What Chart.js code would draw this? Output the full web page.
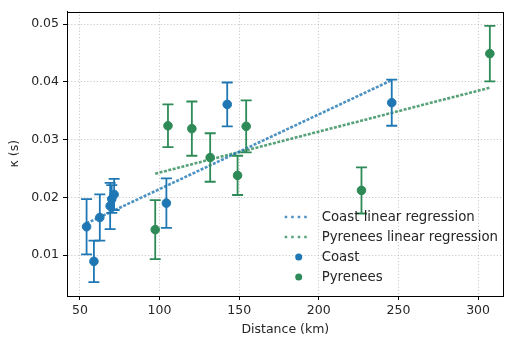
<!DOCTYPE html>
<html><head><meta charset="utf-8">
<script src="https://cdn.jsdelivr.net/npm/chart.js@4"></script>
<style>html,body{margin:0;padding:0;background:#fff}#wrap{width:509px;height:345px;position:relative}</style>
</head><body><div id="wrap"><canvas id="c"></canvas></div>
<script>
const coastDistance = [54.2, 58.8, 62.5, 69, 70, 71.5, 104.3, 142.5, 245.8];
const coastKappa = [0.0149, 0.0089, 0.0165, 0.0185, 0.0197, 0.0205, 0.0190, 0.0361, 0.0364];
const coastError = [0.0048, 0.0036, 0.0040, 0.0040, 0.0024, 0.0027, 0.0043, 0.0038, 0.0040];
const pyreneesDistance = [97.3, 105.3, 120.3, 131.8, 149.0, 154.4, 226.8, 307.4];
const pyreneesKappa = [0.0144, 0.0324, 0.0319, 0.0269, 0.0238, 0.0323, 0.0212, 0.0449];
const pyreneesError = [0.0051, 0.0037, 0.0047, 0.0042, 0.0034, 0.0045, 0.0040, 0.0048];
const coastFitX = [54.2, 245.8];
const coastFitY = [0.0155, 0.0403];
const pyreneesFitX = [97.3, 307.4];
const pyreneesFitY = [0.0241, 0.0390];
const xTicks = [50, 100, 150, 200, 250, 300];
const yTicks = [0.01, 0.02, 0.03, 0.04, 0.05];
const legendLabels = ['Coast linear regression', 'Pyrenees linear regression', 'Coast', 'Pyrenees'];

const BLUE = '#1f77b4';
const GREEN = '#2e8b57';
const BLUE_LINE = 'rgba(31,119,180,0.8)';
const GREEN_LINE = 'rgba(46,139,87,0.8)';
const FONT = 'DejaVu Sans';
const FS = 12.5;
const LFS = 13.3;

const pts = (xs, ys) => xs.map((v, i) => ({x: v, y: ys[i]}));

const errorBars = {
  id: 'errorBars',
  afterDatasetsDraw(chart) {
    const {ctx, scales: {x, y}} = chart;
    const sets = [[coastDistance, coastKappa, coastError, BLUE], [pyreneesDistance, pyreneesKappa, pyreneesError, GREEN]];
    ctx.save();
    ctx.lineWidth = 1.8;
    sets.forEach(([d, k, e, col]) => {
      ctx.strokeStyle = col;
      for (let i = 0; i < d.length; i++) {
        const px = x.getPixelForValue(d[i]);
        const t = y.getPixelForValue(k[i] + e[i]);
        const b = y.getPixelForValue(k[i] - e[i]);
        ctx.beginPath();
        ctx.moveTo(px, t); ctx.lineTo(px, b);
        ctx.moveTo(px - 5.5, t); ctx.lineTo(px + 5.5, t);
        ctx.moveTo(px - 5.5, b); ctx.lineTo(px + 5.5, b);
        ctx.stroke();
      }
    });
    ctx.restore();
  }
};

const frameAndLegend = {
  id: 'frameAndLegend',
  afterDraw(chart) {
    const {ctx, chartArea: a} = chart;
    ctx.save();
    ctx.strokeStyle = '#000';
    ctx.lineWidth = 1;
    ctx.strokeRect(Math.round(a.left) + 0.5, Math.round(a.top) + 0.5, Math.round(a.right - a.left) - 1, Math.round(a.bottom - a.top) - 1);
    // legend
    const tx = a.right - 182;
    const rows = [a.bottom - 79, a.bottom - 59, a.bottom - 39, a.bottom - 19];
    ctx.font = LFS + 'px "' + FONT + '"';
    ctx.fillStyle = '#262626';
    ctx.textBaseline = 'middle';
    ctx.textAlign = 'left';
    const cols = [BLUE_LINE, GREEN_LINE, BLUE, GREEN];
    rows.forEach((ry, i) => {
      if (i < 2) {
        ctx.strokeStyle = cols[i];
        ctx.lineWidth = 2.5;
        ctx.setLineDash([2.5, 4]);
        ctx.beginPath();
        ctx.moveTo(tx - 37, ry); ctx.lineTo(tx - 12, ry);
        ctx.stroke();
        ctx.setLineDash([]);
      } else {
        ctx.fillStyle = cols[i];
        ctx.beginPath();
        ctx.arc(tx - 23, ry, 3.5, 0, Math.PI * 2);
        ctx.fill();
        ctx.fillStyle = '#262626';
      }
      ctx.fillText(legendLabels[i], tx, ry + 1);
    });
    ctx.restore();
  }
};

new Chart(document.getElementById('c'), {
  type: 'scatter',
  data: {
    datasets: [
      {label: legendLabels[2], data: pts(coastDistance, coastKappa), backgroundColor: BLUE, borderColor: BLUE, pointRadius: 4.3, pointHoverRadius: 4.3},
      {label: legendLabels[3], data: pts(pyreneesDistance, pyreneesKappa), backgroundColor: GREEN, borderColor: GREEN, pointRadius: 4.3, pointHoverRadius: 4.3},
      {type: 'line', label: legendLabels[0], data: pts(coastFitX, coastFitY), borderColor: BLUE_LINE, borderWidth: 2.6, borderDash: [3, 1.5], pointRadius: 0, fill: false},
      {type: 'line', label: legendLabels[1], data: pts(pyreneesFitX, pyreneesFitY), borderColor: GREEN_LINE, borderWidth: 2.6, borderDash: [3, 1.5], pointRadius: 0, fill: false}
    ]
  },
  options: {
    responsive: true,
    maintainAspectRatio: false,
    animation: false,
    devicePixelRatio: 1,
    layout: {padding: {top: 5, right: 4, left: 0, bottom: 0}},
    plugins: {legend: {display: false}, tooltip: {enabled: false}},
    scales: {
      x: {
        type: 'linear', min: 41.9, max: 316.1,
        afterFit(s) { s.height = 49; },
        afterBuildTicks(s) { s.ticks = xTicks.map(v => ({value: v})); },
        ticks: {color: '#262626', font: {family: FONT, size: FS}, padding: 3, maxRotation: 0, autoSkip: false, callback: v => String(v)},
        grid: {color: '#bdbdbd', lineWidth: 0.8, tickColor: '#000', tickLength: 4, tickWidth: 1},
        border: {color: '#000', width: 1, dash: [1.2, 2]},
        title: {display: true, text: 'Distance (km)', color: '#262626', font: {family: FONT, size: FS}, padding: {top: 0, bottom: 7.5}}
      },
      y: {
        type: 'linear', min: 0.0029, max: 0.0522,
        afterFit(s) { s.width = 67; },
        afterBuildTicks(s) { s.ticks = yTicks.map(v => ({value: v})); },
        ticks: {color: '#262626', font: {family: FONT, size: FS}, padding: 4, autoSkip: false, callback: v => v.toFixed(2)},
        grid: {color: '#bdbdbd', lineWidth: 0.8, tickColor: '#000', tickLength: 4, tickWidth: 1},
        border: {color: '#000', width: 1, dash: [1.2, 2]},
        title: {display: true, text: 'κ (s)', color: '#262626', font: {family: FONT, size: FS}, padding: {top: 7.5, bottom: 0}}
      }
    }
  },
  plugins: [errorBars, frameAndLegend]
});
</script>
</body></html>
